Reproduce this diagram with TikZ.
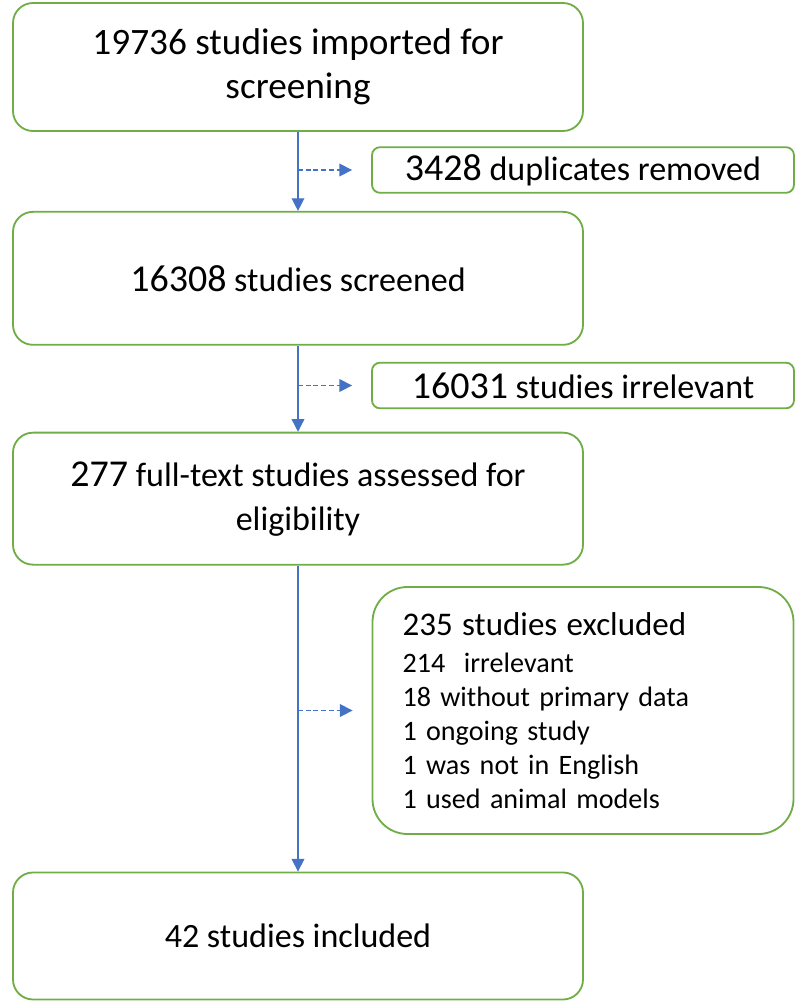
\documentclass[tikz,border=0pt]{standalone}
\usepackage{fontspec}
\setmainfont{Carlito}
\usetikzlibrary{positioning, arrows.meta}
\definecolor{boxline}{RGB}{112, 173, 71}
\definecolor{flow}{RGB}{68, 114, 196}
\newcommand{\bignum}[1]{{\fontsize{27}{32}\selectfont #1}}

\begin{document}
\begin{tikzpicture}[
    main_style/.style={
        draw=boxline,
        line width=1.3pt,
        rounded corners=0.5cm,
        minimum width=14.25cm,
        align=center,
        font=\fontsize{24.2}{31.3}\selectfont,
        inner sep=0pt
    },
    side_style/.style={
        draw=boxline,
        line width=1.3pt,
        rounded corners=0.2cm,
        minimum width=10.55cm,
        minimum height=1.14cm,
        font=\fontsize{24.2}{29}\selectfont,
        inner sep=0pt
    },
    excl_style/.style={
        draw=boxline,
        line width=1.3pt,
        rounded corners=0.875cm,
        text width=9.025cm,
        inner xsep=0.75cm,
        inner ysep=0pt,
        minimum height=6.175cm,
        align=left,
        font=\fontsize{20}{24.2}\selectfont
    },
    flow_arrow/.style={draw=flow, line width=1pt, -{Triangle[length=9pt, width=9pt]}},
    skip_arrow/.style={flow_arrow, dash pattern=on 3.5pt off 2pt}
]

\useasboundingbox (0,0) rectangle (20,-25.075);

\node[main_style, minimum height=3.2cm, font=\fontsize{26.5}{31}\selectfont] (imported) at (7.45,-1.675) {19736 studies imported for\\screening};
\node[main_style, minimum height=3.325cm, below=1.975cm of imported] (screened) {\bignum{16308} studies screened};
\node[main_style, minimum height=3.3cm, below=2.15cm of screened] (fulltext) {\bignum{277} full-text studies assessed for\\eligibility};
\node[main_style, minimum height=3.175cm, below=7.65cm of fulltext] (included) {42 studies included};

\node[side_style] (duplicates) at (14.575,-4.25) {\bignum{3428} duplicates removed};
\node[side_style] (irrelevant) at (14.575,-9.6375) {\bignum{16031} studies irrelevant};
\node[excl_style] (excluded) at (14.575,-17.7625) {{\fontsize{23.5}{28}\selectfont 235 studies excluded}\\[2pt]
    214\ \ irrelevant\\
    18 without primary data\\
    1 ongoing study\\
    1 was not in English\\
    1 used animal models};

\draw[flow_arrow] (imported) -- (screened);
\draw[flow_arrow] (screened) -- (fulltext);
\draw[flow_arrow] (fulltext) -- (included);

\draw[skip_arrow] (imported.south |- duplicates.west) -- ([xshift=-0.475cm]duplicates.west);
\draw[skip_arrow] (screened.south |- irrelevant.west) -- ([xshift=-0.475cm]irrelevant.west);
\draw[skip_arrow] (fulltext.south |- excluded.west) -- ([xshift=-0.475cm]excluded.west);

\end{tikzpicture}
\end{document}
